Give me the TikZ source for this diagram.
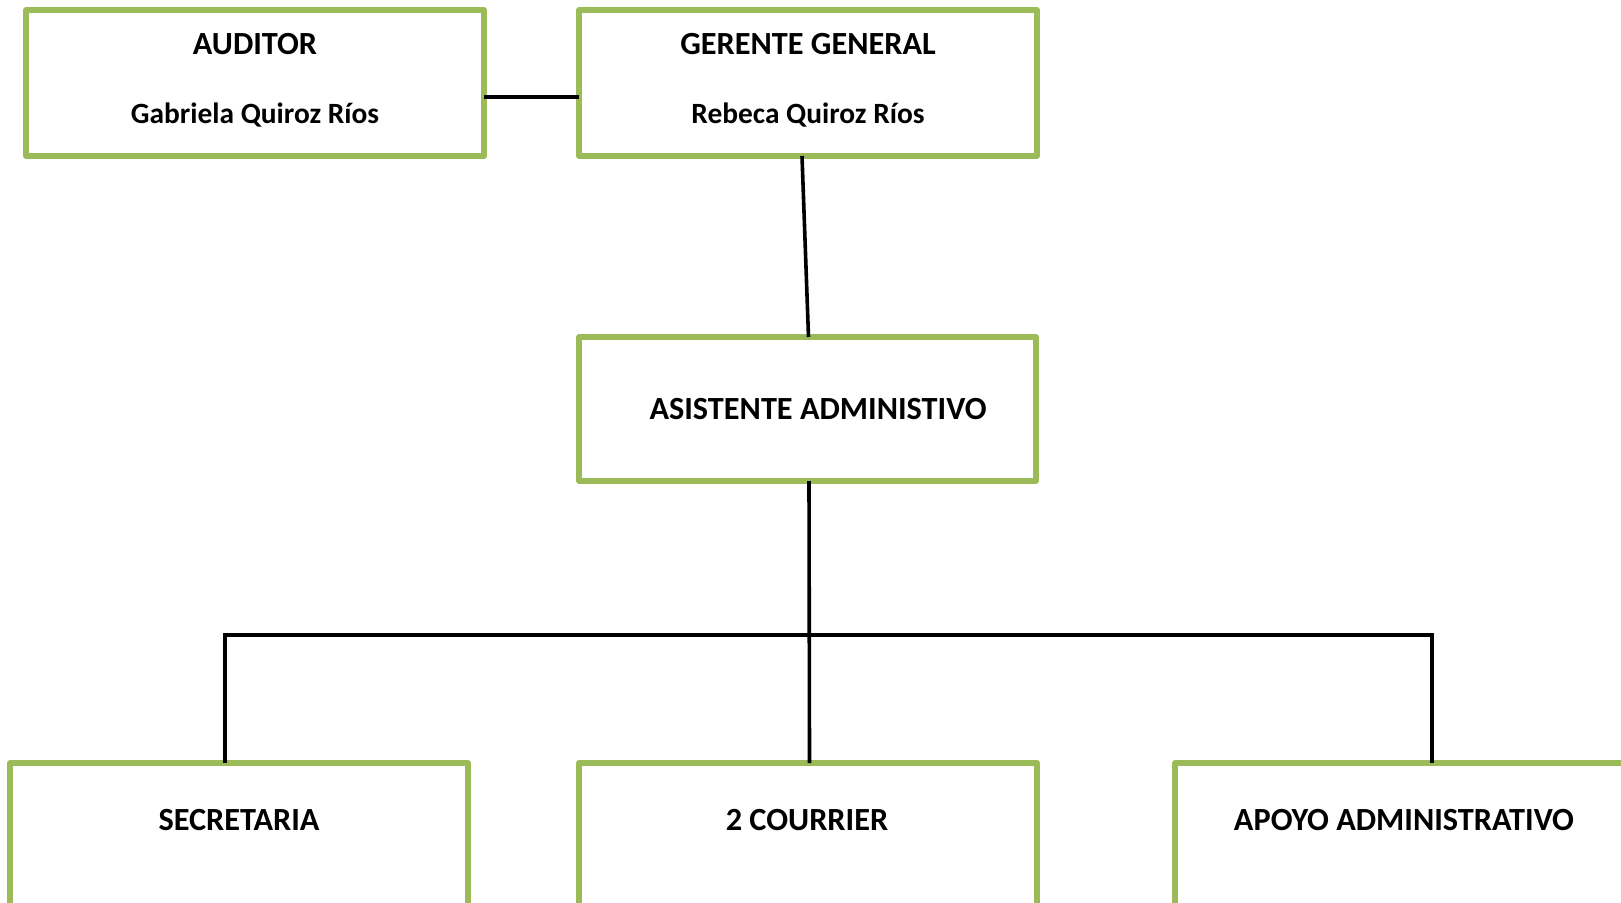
\documentclass[tikz,border=0pt]{standalone}
\usepackage{fontspec}
\setmainfont{Carlito}
\definecolor{boxgreen}{HTML}{9BBB59}
\begin{document}
\begin{tikzpicture}[x=1pt,y=-1pt,
  orgbox/.style={draw=boxgreen,line width=5.2pt,line join=round,rectangle,inner sep=0pt,outer sep=0pt,anchor=north west},
  lbl/.style={font=\fontsize{32.3}{38}\selectfont\bfseries,inner sep=0pt},
  namelbl/.style={font=\fontsize{29.4}{35}\selectfont\bfseries,inner sep=0pt},
  conn/.style={draw=black,line width=3.6pt}]
\useasboundingbox (0,0) rectangle (1621,902);
\clip (0,0) rectangle (1621,902);
% boxes
\node[orgbox,minimum width=458pt,minimum height=146pt] (aud) at (26,10) {};
\node[orgbox,minimum width=458pt,minimum height=146pt] (gg) at (579,10) {};
\node[orgbox,minimum width=457pt,minimum height=144pt] (asis) at (579,337) {};
\node[orgbox,minimum width=458pt,minimum height=200pt] (sec) at (10,763) {};
\node[orgbox,minimum width=458pt,minimum height=200pt] (cou) at (579,763) {};
\node[orgbox,minimum width=458pt,minimum height=200pt] (apo) at (1175,763) {};
% texts
\node[lbl] (audt) at (255,44) {AUDITOR};
\node[namelbl] (audn) at (255,115) {Gabriela Quiroz Ríos};
\node[lbl] (ggt) at (808,44) {GERENTE GENERAL};
\node[namelbl] (ggn) at (808,115) {Rebeca Quiroz Ríos};
\node[lbl] (asist) at (818,409) {ASISTENTE ADMINISTIVO};
\node[lbl] (sect) at (239,820) {SECRETARIA};
\node[lbl] (cout) at (807,820) {2 COURRIER};
\node[lbl] (apot) at (1404,820) {APOYO ADMINISTRATIVO};
% connectors
\coordinate (bar) at (809.5,635);
\draw[conn] (aud.east |- 0,97) -- (gg.west |- 0,97);
\draw[conn] ([xshift=-6pt]gg.south) -- ([xshift=1pt]asis.north);
\draw[conn] ([xshift=1.5pt]asis.south) -- ([xshift=1.5pt]cou.north);
\draw[conn,line join=miter] ([xshift=-14pt]sec.north) |- (bar) -| ([xshift=28pt]apo.north);
\end{tikzpicture}
\end{document}
